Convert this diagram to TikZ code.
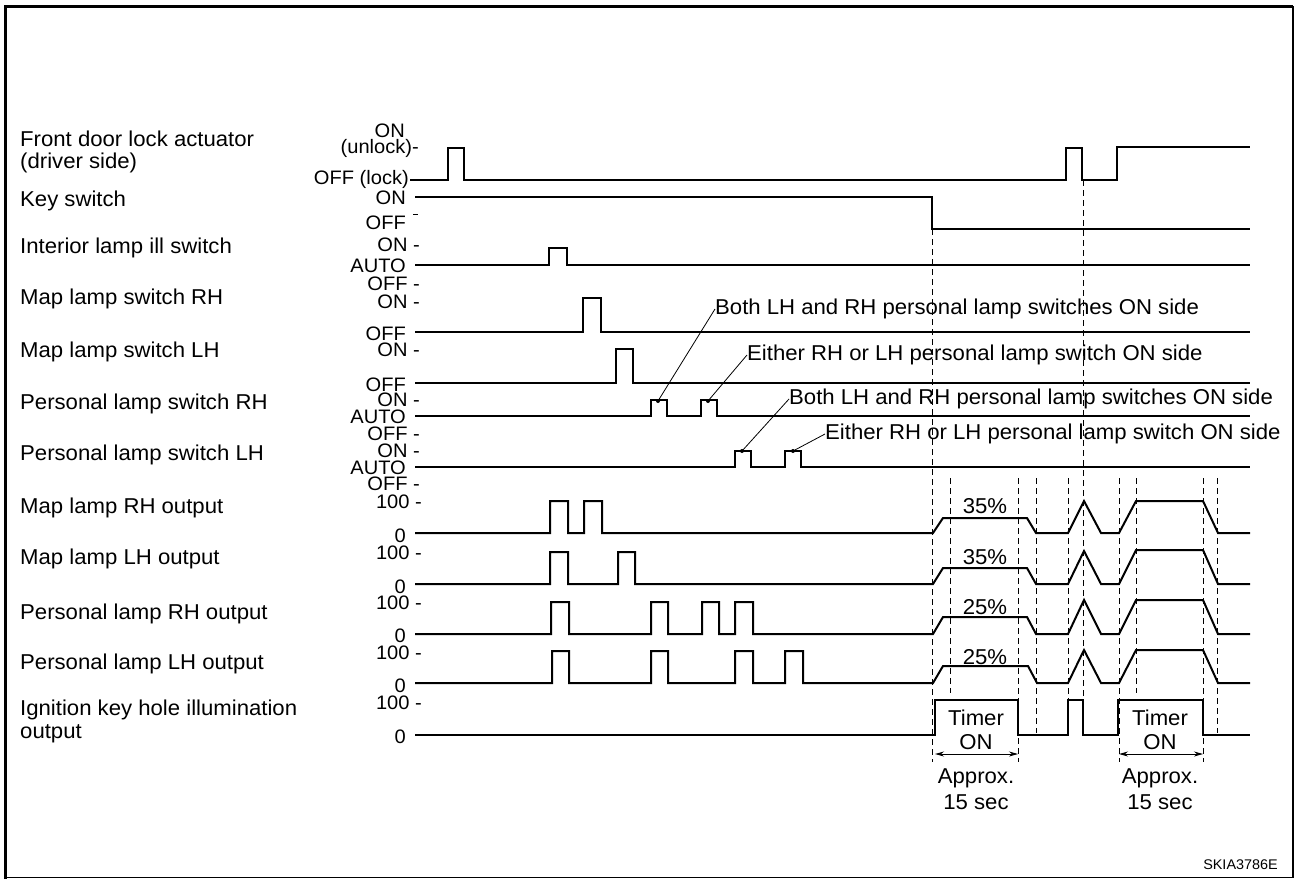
\documentclass[tikz,border=0pt]{standalone}
\usepackage{fontspec}
\setmainfont{Liberation Sans}[FakeStretch=1.03]
\usetikzlibrary{arrows.meta}
\begin{document}
\begin{tikzpicture}[x=1pt,y=-1pt,
  wave/.style={line width=2pt, line join=miter},
  guide/.style={line width=0.9pt, dash pattern=on 6pt off 4pt},
  leader/.style={line width=0.8pt},
  lbl/.style={anchor=west, inner sep=0pt, font=\fontsize{21.5}{24}\selectfont},
  lvl/.style={anchor=east, inner sep=0pt, font=\fontsize{19.5}{22}\selectfont},
  note/.style={anchor=west, inner sep=0pt, font=\fontsize{21.5}{24}\selectfont},
  ctext/.style={anchor=center, inner sep=0pt, font=\fontsize{21.5}{24}\selectfont},
  dot/.style={circle, fill=black, inner sep=0pt, minimum size=4pt}]
\useasboundingbox (0,0) rectangle (1295,879);
% frame
\draw[line width=3pt] (5.5,879) -- (5.5,6) -- (1293,6);
\draw[line width=1.2pt] (1293,6) -- (1293,877.5) -- (5.5,877.5);

% left labels
\node[lbl] (l1a) at (20,139) {Front door lock actuator};
\node[lbl] (l1b) at (20,163) {(driver side)};
\node[lbl] (l2) at (20,201) {Key switch};
\node[lbl] (l3) at (20,248) {Interior lamp ill switch};
\node[lbl] (l4) at (20,299) {Map lamp switch RH};
\node[lbl] (l5) at (20,352) {Map lamp switch LH};
\node[lbl] (l6) at (20,404) {Personal lamp switch RH};
\node[lbl] (l7) at (20,455) {Personal lamp switch LH};
\node[lbl] (l8) at (20,508) {Map lamp RH output};
\node[lbl] (l9) at (20,559) {Map lamp LH output};
\node[lbl] (l10) at (20,614) {Personal lamp RH output};
\node[lbl] (l11) at (20,664) {Personal lamp LH output};
\node[lbl] (l12a) at (20,710) {Ignition key hole illumination};
\node[lbl] (l12b) at (20,734) {output};

% level labels
\node[lvl] (v1a) at (405,131) {ON};
\node[lvl] (v1b) at (419,148) {(unlock)-};
\node[lvl] (v1c) at (409,179) {OFF (lock)};
\node[lvl] (v2a) at (406,198) {ON};
\node[lvl] (v2b) at (406,223) {OFF};
\draw[line width=1pt] (413,214) -- (418,214);
\node[lvl] (v3a) at (420,245) {ON -};
\node[lvl] (v3b) at (406,266) {AUTO};
\node[lvl] (v3c) at (420,284) {OFF -};
\node[lvl] (v4a) at (420,302) {ON -};
\node[lvl] (v4b) at (406,334) {OFF};
\node[lvl] (v5a) at (420,350) {ON -};
\node[lvl] (v5b) at (406,385) {OFF};
\node[lvl] (v6a) at (420,400) {ON -};
\node[lvl] (v6b) at (406,417) {AUTO};
\node[lvl] (v6c) at (420,434) {OFF -};
\node[lvl] (v7a) at (420,451) {ON -};
\node[lvl] (v7b) at (406,468) {AUTO};
\node[lvl] (v7c) at (420,484) {OFF -};
\node[lvl] (v8a) at (422,502) {100 -};
\node[lvl] (v8b) at (406,536) {0};
\node[lvl] (v9a) at (422,553) {100 -};
\node[lvl] (v9b) at (406,587) {0};
\node[lvl] (v10a) at (422,603) {100 -};
\node[lvl] (v10b) at (406,636) {0};
\node[lvl] (v11a) at (422,653) {100 -};
\node[lvl] (v11b) at (406,686) {0};
\node[lvl] (v12a) at (422,703) {100 -};
\node[lvl] (v12b) at (406,737) {0};

% guide (dashed) lines
\draw[guide] (932,229) -- (932,762);
\draw[guide] (1083,180) -- (1083,700);
\draw[guide] (950,478) -- (950,693);
\draw[guide] (1018,478) -- (1018,762);
\draw[guide] (1036,478) -- (1036,733);
\draw[guide] (1068,478) -- (1068,700);
\draw[guide] (1119,478) -- (1119,762);
\draw[guide] (1136,478) -- (1136,693);
\draw[guide] (1203,478) -- (1203,762);
\draw[guide] (1217,478) -- (1217,733);

% switch waveforms
\draw[wave] (410,180) -- (448,180) -- (448,148) -- (464,148) -- (464,180) -- (1066,180) -- (1066,148) -- (1082,148) -- (1082,180) -- (1117,180) -- (1117,147) -- (1250,147);
\draw[wave] (415,197) -- (932,197) -- (932,229) -- (1250,229);
\draw[wave] (415,265) -- (549,265) -- (549,248) -- (567,248) -- (567,265) -- (1250,265);
\draw[wave] (415,332) -- (583,332) -- (583,298) -- (601,298) -- (601,332) -- (1250,332);
\draw[wave] (415,383) -- (616,383) -- (616,349) -- (633,349) -- (633,383) -- (1250,383);
\draw[wave] (415,416) -- (651,416) -- (651,400) -- (667,400) -- (667,416) -- (701,416) -- (701,400) -- (717,400) -- (717,416) -- (1250,416);
\draw[wave] (415,467) -- (735,467) -- (735,451) -- (751,451) -- (751,467) -- (785,467) -- (785,451) -- (801,451) -- (801,467) -- (1250,467);

% output waveforms
\draw[wave] (415,533) -- (550,533) -- (550,501) -- (568,501) -- (568,533) -- (584,533) -- (584,501) -- (602,501) -- (602,533) -- (933,533) -- (943,518) -- (1027,518) -- (1036,533) -- (1068,533) -- (1084,501) -- (1101,533) -- (1119,533) -- (1136,501) -- (1203,501) -- (1218,533) -- (1250,533);
\draw[wave] (415,584) -- (550,584) -- (550,552) -- (568,552) -- (568,584) -- (618,584) -- (618,552) -- (635,552) -- (635,584) -- (933,584) -- (943,568) -- (1027,568) -- (1036,584) -- (1068,584) -- (1084,551) -- (1101,584) -- (1119,584) -- (1136,550) -- (1203,550) -- (1218,584) -- (1250,584);
\draw[wave] (415,634) -- (551,634) -- (551,602) -- (569,602) -- (569,634) -- (651,634) -- (651,602) -- (668,602) -- (668,634) -- (702,634) -- (702,602) -- (719,602) -- (719,634) -- (735,634) -- (735,602) -- (753,602) -- (753,634) -- (933,634) -- (943,617) -- (1027,617) -- (1036,634) -- (1068,634) -- (1084,600) -- (1101,634) -- (1119,634) -- (1136,600) -- (1203,600) -- (1218,634) -- (1250,634);
\draw[wave] (415,683) -- (552,683) -- (552,651) -- (569,651) -- (569,683) -- (651,683) -- (651,651) -- (668,651) -- (668,683) -- (735,683) -- (735,651) -- (753,651) -- (753,683) -- (785,683) -- (785,651) -- (803,651) -- (803,683) -- (933,683) -- (943,666) -- (1028,666) -- (1037,683) -- (1068,683) -- (1084,650) -- (1101,683) -- (1119,683) -- (1136,650) -- (1203,650) -- (1218,683) -- (1250,683);
\draw[wave, line width=2.4pt] (415,735) -- (935,735) -- (935,700) -- (1018,700) -- (1018,735) -- (1068,735) -- (1068,700) -- (1083,700) -- (1083,735) -- (1118,735) -- (1118,700) -- (1203,700) -- (1203,735) -- (1250,735);

% percentages
\node[ctext] (p1) at (985,506) {35\%};
\node[ctext] (p2) at (985,557) {35\%};
\node[ctext] (p3) at (985,607) {25\%};
\node[ctext] (p4) at (985,657) {25\%};

% timer texts
\node[ctext] (t1a) at (976,718) {Timer};
\node[ctext] (t1b) at (976,742) {ON};
\node[ctext] (t2a) at (1160,718) {Timer};
\node[ctext] (t2b) at (1160,742) {ON};
\coordinate (d1s) at (935,754);
\coordinate (d1e) at (1018,754);
\coordinate (d2s) at (1119,754);
\coordinate (d2e) at (1203,754);
\draw[line width=0.9pt, {Stealth[length=9pt,width=5pt]}-{Stealth[length=9pt,width=5pt]}] (d1s) -- (d1e);
\draw[line width=0.9pt, {Stealth[length=9pt,width=5pt]}-{Stealth[length=9pt,width=5pt]}] (d2s) -- (d2e);
\node[ctext] (a1a) at (976,778) {Approx.};
\node[ctext] (a1b) at (976,802) {15 sec};
\node[ctext] (a2a) at (1160,778) {Approx.};
\node[ctext] (a2b) at (1160,802) {15 sec};

% annotations
\node[note] (n1) at (715,309) {Both LH and RH personal lamp switches ON side};
\node[note] (n2) at (747,355) {Either RH or LH personal lamp switch ON side};
\node[note] (n3) at (789,399) {Both LH and RH personal lamp switches ON side};
\node[note] (n4) at (825,434) {Either RH or LH personal lamp switch ON side};
\node[dot] (k1) at (658,401) {};
\node[dot] (k2) at (708,401) {};
\node[dot] (k3) at (742,451) {};
\node[dot] (k4) at (793,451) {};
\draw[leader] (k1.center) -- (n1.west);
\draw[leader] (k2.center) -- (n2.west);
\draw[leader] (k3.center) -- (n3.west);
\draw[leader] (k4.center) -- (n4.west);

\node[anchor=east, inner sep=0pt, font=\fontsize{14}{16}\selectfont] (id) at (1278,865) {SKIA3786E};
\end{tikzpicture}
\end{document}
